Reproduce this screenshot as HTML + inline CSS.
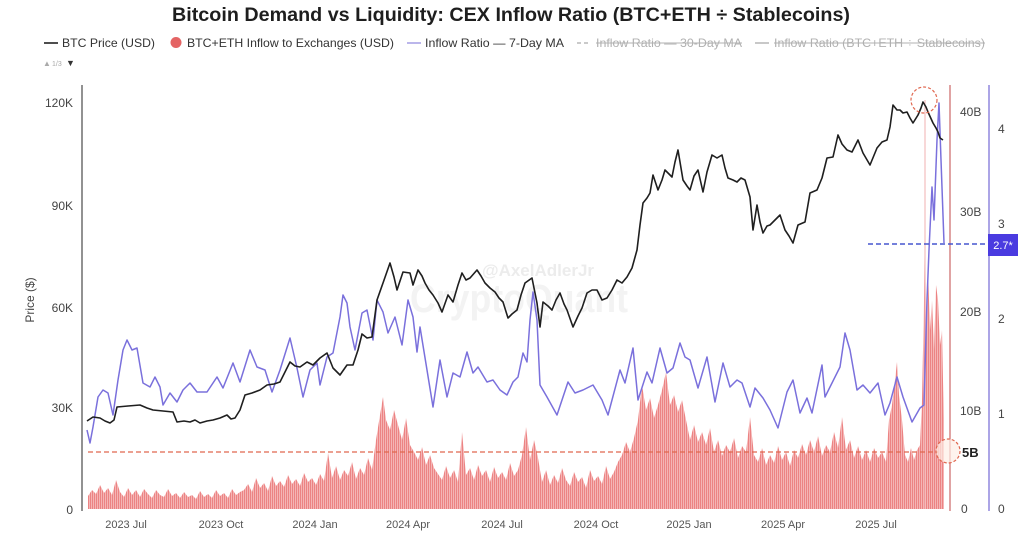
<!DOCTYPE html>
<html><head><meta charset="utf-8"><style>
html,body{margin:0;padding:0;background:#fff;}
svg{display:block;font-family:"Liberation Sans",Arial,sans-serif;}
</style></head><body>
<svg width="1024" height="535" viewBox="0 0 1024 535" xmlns="http://www.w3.org/2000/svg">
<defs>
<pattern id="bp" width="2" height="10" patternUnits="userSpaceOnUse">
<rect width="2" height="10" fill="#f7c6c6"/><rect width="1.25" height="10" fill="#ec8383"/>
</pattern>
</defs>
<rect width="1024" height="535" fill="#fff"/>
<!-- title -->
<text x="172" y="21" font-size="19" font-weight="bold" fill="#1e1e1e" textLength="678" lengthAdjust="spacingAndGlyphs">Bitcoin Demand vs Liquidity: CEX Inflow Ratio (BTC+ETH ÷ Stablecoins)</text>
<!-- legend -->
<line x1="44" y1="43" x2="58" y2="43" stroke="#222" stroke-width="1.6"/>
<text x="62" y="47" font-size="12" fill="#333" textLength="93" lengthAdjust="spacingAndGlyphs">BTC Price (USD)</text>
<circle cx="176" cy="42.5" r="5.5" fill="#e46464"/>
<text x="187" y="47" font-size="12" fill="#333" textLength="207" lengthAdjust="spacingAndGlyphs">BTC+ETH Inflow to Exchanges (USD)</text>
<line x1="407" y1="43" x2="421" y2="43" stroke="#aaa3e6" stroke-width="1.6"/>
<text x="425" y="47" font-size="12" fill="#333" textLength="139" lengthAdjust="spacingAndGlyphs">Inflow Ratio — 7-Day MA</text>
<line x1="577" y1="43" x2="591" y2="43" stroke="#aaa" stroke-width="1.3" stroke-dasharray="4 3"/>
<text x="596" y="47" font-size="12" fill="#b0b0b0" textLength="146" lengthAdjust="spacingAndGlyphs">Inflow Ratio — 30-Day MA</text>
<line x1="596" y1="43" x2="742" y2="43" stroke="#b0b0b0" stroke-width="1"/>
<line x1="755" y1="43" x2="769" y2="43" stroke="#aaa" stroke-width="1.3"/>
<text x="774" y="47" font-size="12" fill="#b0b0b0" textLength="211" lengthAdjust="spacingAndGlyphs">Inflow Ratio (BTC+ETH ÷ Stablecoins)</text>
<line x1="774" y1="43" x2="985" y2="43" stroke="#b0b0b0" stroke-width="1"/>
<text x="43" y="66" font-size="8" fill="#aaa">▲</text>
<text x="52" y="66" font-size="7" fill="#aaa">1/3</text>
<text x="66" y="66" font-size="9" fill="#333">▼</text>
<!-- watermark -->
<text x="482" y="276" font-size="17" font-weight="bold" fill="#ececec">@AxelAdlerJr</text>
<text x="410" y="312" font-size="40" font-weight="bold" fill="#f3f3f3" textLength="218" lengthAdjust="spacingAndGlyphs">CryptoQuant</text>
<!-- left axis -->
<line x1="82" y1="85" x2="82" y2="511" stroke="#777" stroke-width="1.6"/>
<g font-size="12" fill="#444" text-anchor="end">
<text x="73" y="107">120K</text>
<text x="73" y="210">90K</text>
<text x="73" y="312">60K</text>
<text x="73" y="412">30K</text>
<text x="73" y="514">0</text>
</g>
<text transform="translate(34,300) rotate(-90)" font-size="12" fill="#444" text-anchor="middle">Price ($)</text>
<!-- bottom labels -->
<g font-size="11" fill="#555" text-anchor="middle">
<text x="126" y="528">2023 Jul</text>
<text x="221" y="528">2023 Oct</text>
<text x="315" y="528">2024 Jan</text>
<text x="408" y="528">2024 Apr</text>
<text x="502" y="528">2024 Jul</text>
<text x="596" y="528">2024 Oct</text>
<text x="689" y="528">2025 Jan</text>
<text x="783" y="528">2025 Apr</text>
<text x="876" y="528">2025 Jul</text>
</g>
<!-- bars -->
<polygon fill="url(#bp)" points="88,509 88,496 92,490 96,494 100,485 104,493 108,488 112,495 116,480 120,492 124,497 128,488 132,495 136,490 140,497 144,489 148,494 152,498 156,490 160,495 164,497 168,489 172,496 176,493 180,498 184,492 188,497 192,495 196,499 200,491 204,497 208,494 212,498 216,490 220,496 224,493 228,498 232,489 236,495 240,492 244,490 248,484 252,492 256,478 260,488 264,483 268,491 272,476 276,486 280,481 284,487 288,475 292,484 296,479 300,486 304,473 308,482 312,478 316,485 320,474 324,481 328,453 332,478 336,466 340,480 344,470 348,476 352,462 356,479 360,468 364,475 368,458 372,470 376,440 380,415 383,397 386,420 390,430 394,410 398,425 402,440 406,418 410,445 414,452 418,460 422,447 426,465 430,455 434,468 438,474 442,480 446,466 450,478 454,470 458,482 462,432 466,475 470,468 474,480 478,465 482,476 486,470 490,482 494,467 498,478 502,472 506,480 510,463 514,476 518,470 522,455 526,427 530,460 534,440 538,458 542,482 546,470 550,485 554,475 558,483 562,468 566,480 570,486 574,472 578,482 582,477 586,488 590,470 594,481 598,476 602,484 606,466 610,479 614,472 618,462 622,455 626,442 630,452 634,438 638,420 642,385 646,410 650,398 654,418 658,405 662,390 666,372 670,405 674,395 678,412 682,400 686,420 690,440 694,425 698,442 702,432 706,445 710,428 714,452 718,440 722,456 726,445 730,452 734,438 738,458 742,446 746,452 750,417 754,455 758,462 762,448 766,465 770,455 774,463 778,446 782,460 786,452 790,466 794,450 798,458 802,444 806,455 810,440 814,452 818,436 822,456 826,445 830,452 834,432 838,448 842,417 846,450 850,440 854,458 858,446 862,460 866,450 870,462 874,448 878,458 882,452 886,462 889,420 892,405 895,380 897,362 899,395 902,420 905,455 908,462 911,448 914,460 917,450 920,445 922,400 924,300 925,213 926,320 928,270 930,330 932,300 934,350 936,285 938,300 940,345 942,330 943,380 944,420 944,509"/>
<line x1="925" y1="100" x2="925" y2="509" stroke="#f2b0b0" stroke-width="1"/>
<!-- right axes -->
<line x1="950" y1="85" x2="950" y2="511" stroke="#d98c8c" stroke-width="1.6"/>
<line x1="989" y1="85" x2="989" y2="511" stroke="#aca5e6" stroke-width="2"/>
<g font-size="12" fill="#444">
<text x="960" y="116">40B</text>
<text x="960" y="216">30B</text>
<text x="960" y="316">20B</text>
<text x="960" y="415">10B</text>
<text x="961" y="513">0</text>
<text x="998" y="133">4</text>
<text x="998" y="228">3</text>
<text x="998" y="323">2</text>
<text x="998" y="418">1</text>
<text x="998" y="513">0</text>
</g>
<!-- 5B reference -->
<line x1="88" y1="452" x2="938" y2="452" stroke="#e0674f" stroke-width="1.3" stroke-dasharray="5 3"/>
<circle cx="948" cy="451" r="12" fill="#fdeee6" fill-opacity="0.7" stroke="#e0674f" stroke-width="1.2" stroke-dasharray="3 2"/>
<text x="962" y="457" font-size="13" font-weight="bold" fill="#222">5B</text>
<!-- purple ratio line -->
<polyline fill="none" stroke="#7a70dc" stroke-width="1.5" stroke-linejoin="round" points="87,430 90,443 93,427 98,397 103,390 108,393 113,415 118,380 123,350 127,340 132,350 137,348 143,383 150,387 155,377 160,387 163,405 170,393 177,402 183,390 190,383 197,392 207,392 217,377 223,388 233,363 240,382 250,350 257,367 265,370 272,392 280,370 290,338 297,368 303,397 310,370 317,363 320,385 327,357 333,353 340,317 343,295 347,303 350,327 355,350 362,313 367,310 373,340 377,300 383,312 388,333 395,317 402,345 408,300 413,317 417,352 420,327 427,370 433,407 440,360 447,397 453,373 460,377 467,352 473,373 478,367 487,382 493,380 500,390 507,395 513,382 518,377 523,353 527,362 530,320 533,292 537,320 540,385 547,397 557,415 568,382 575,393 583,390 593,385 602,400 608,415 620,370 625,383 633,348 638,400 647,372 652,383 660,348 667,373 673,368 680,343 685,357 690,360 698,388 707,357 715,402 723,363 730,387 737,380 742,383 750,407 755,388 763,398 770,410 778,428 787,392 793,380 800,413 807,398 812,413 822,365 825,397 832,383 840,367 845,333 850,350 857,390 863,385 870,393 878,383 885,415 890,403 897,377 903,397 912,422 920,408 924,405 927,300 929,250 932,187 934,220 937,140 939,103 941,160 944,243"/>
<!-- BTC price line -->
<polyline fill="none" stroke="#1f1f1f" stroke-width="1.6" stroke-linejoin="round" points="87,421 93,417 100,418 105,421 110,423 114,420 117,407 128,406 140,405 147,408 153,410 163,411 173,412 177,422 184,421 190,422 195,420 200,423 207,421 213,420 220,418 227,415 231,419 235,418 240,410 245,395 252,393 260,390 267,385 274,384 280,382 285,372 290,362 295,366 300,367 307,362 313,365 320,358 327,353 333,368 340,375 347,365 353,365 358,350 362,334 367,338 372,337 377,300 383,283 390,263 394,277 397,290 403,272 410,273 413,285 418,270 422,276 425,283 429,290 433,295 438,303 442,312 448,295 453,302 458,285 462,273 466,280 470,278 477,270 481,276 485,283 490,288 495,292 499,298 503,302 508,318 512,314 517,310 521,295 525,283 532,278 537,303 540,327 543,302 548,306 552,310 556,300 560,293 564,304 567,310 573,327 578,316 582,308 587,293 592,290 597,290 602,300 607,298 612,290 617,280 622,283 627,277 632,268 637,250 640,225 643,203 647,198 650,193 653,175 658,190 662,180 665,170 669,174 672,177 675,162 678,150 681,168 683,180 687,186 690,190 694,176 698,170 703,192 707,172 712,155 717,158 722,155 725,168 728,178 733,180 737,182 741,178 745,180 750,197 753,230 757,205 760,222 763,233 767,226 770,225 775,220 780,215 785,230 789,236 793,243 798,225 805,222 810,193 817,190 822,178 827,158 833,157 838,135 842,144 847,150 852,152 858,140 863,153 870,165 877,148 882,142 887,140 890,127 893,105 897,110 900,110 903,113 907,112 910,118 913,123 918,115 921,108 923,102 926,107 928,112 933,123 936,128 938,132 940,138 943,140"/>
<circle cx="924" cy="100" r="13" fill="none" stroke="#e0674f" stroke-width="1.2" stroke-dasharray="3 2"/>
<!-- 2.7 marker -->
<line x1="868" y1="244" x2="988" y2="244" stroke="#4656cf" stroke-width="1.5" stroke-dasharray="5 3"/>
<rect x="988" y="234" width="30" height="22" fill="#4a3be0"/>
<text x="1003" y="249" font-size="11" fill="#fff" text-anchor="middle">2.7*</text>
</svg>
</body></html>
